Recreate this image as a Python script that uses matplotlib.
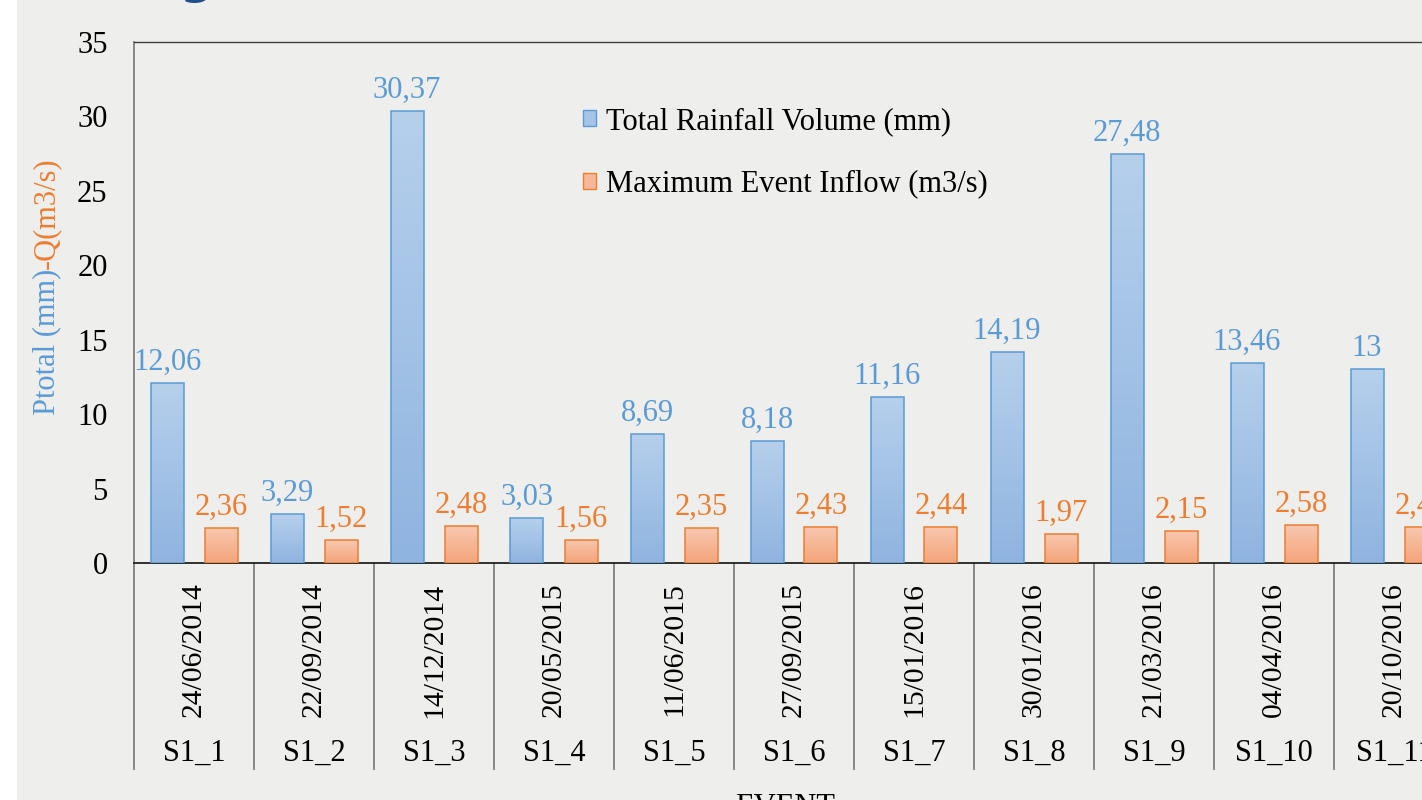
import numpy as np
import matplotlib
matplotlib.use("Agg")
import matplotlib.pyplot as plt
from matplotlib.patches import Rectangle
from matplotlib.colors import LinearSegmentedColormap
import matplotlib.transforms as mtransforms

plt.rcParams['font.family'] = ['Liberation Serif', 'DejaVu Serif']

events = ["S1_1", "S1_2", "S1_3", "S1_4", "S1_5", "S1_6", "S1_7", "S1_8", "S1_9", "S1_10", "S1_11"]
dates = ["24/06/2014", "22/09/2014", "14/12/2014", "20/05/2015", "11/06/2015", "27/09/2015",
         "15/01/2016", "30/01/2016", "21/03/2016", "04/04/2016", "20/10/2016"]
rainfall = [12.06, 3.29, 30.37, 3.03, 8.69, 8.18, 11.16, 14.19, 27.48, 13.46, 13]
inflow = [2.36, 1.52, 2.48, 1.56, 2.35, 2.43, 2.44, 1.97, 2.15, 2.58, 2.42]
yticks = [0, 5, 10, 15, 20, 25, 30, 35]

BG = '#eeeeec'
BLUE_EDGE = '#5b9bd5'
ORANGE_EDGE = '#ed7d31'
BLUE_TXT = '#5b9bd5'
ORANGE_TXT = '#ed7d31'
FS = 22
FS_DATE = 21.3

W, H = 1422, 800
fig = plt.figure(figsize=(W / 100, H / 100), dpi=100, facecolor=BG)
fig.patches.append(Rectangle((0, 0), 17 / W, 1, transform=fig.transFigure,
                             facecolor='white', edgecolor='none', zorder=-1))

left, right, top, bottom = 134, 1454, 42, 563
ax = fig.add_axes([left / W, 1 - bottom / H, (right - left) / W, (bottom - top) / H])
ax.set_facecolor(BG)

x = np.arange(len(events))
bw = 0.275
off = 0.225
bars_b = ax.bar(x - off, rainfall, bw, facecolor='none', edgecolor=BLUE_EDGE, linewidth=1.1, zorder=3)
bars_o = ax.bar(x + off, inflow, bw, facecolor='none', edgecolor=ORANGE_EDGE, linewidth=1.1, zorder=3)

cmap_b = LinearSegmentedColormap.from_list('b', ['#8fb4e0', '#b6d0ec'])
cmap_o = LinearSegmentedColormap.from_list('o', ['#f4a47a', '#f8c8b0'])
grad = np.linspace(0, 1, 256).reshape(-1, 1)
for bars, cm in ((bars_b, cmap_b), (bars_o, cmap_o)):
    for b in bars:
        x0, y0 = b.get_x(), b.get_y()
        im = ax.imshow(grad, cmap=cm, origin='lower', aspect='auto', interpolation='bilinear',
                       extent=[x0, x0 + b.get_width(), y0, y0 + b.get_height()], zorder=2.9)
        im.set_clip_path(b)

for b, v in zip(bars_b, rainfall):
    ax.annotate(f"{v:g}".replace('.', ','), (b.get_x() + b.get_width() / 2, v),
                xytext=(0, 9.5), textcoords='offset points', ha='center', va='baseline',
                fontsize=FS, color=BLUE_TXT, annotation_clip=False)
for b, v in zip(bars_o, inflow):
    ax.annotate(f"{v:.2f}".replace('.', ','), (b.get_x() + b.get_width() / 2, v),
                xytext=(0, 9.5), textcoords='offset points', ha='center', va='baseline',
                fontsize=FS, color=ORANGE_TXT, annotation_clip=False)

ax.set_xlim(-0.5, len(events) - 0.5)
ax.set_ylim(0, 35)
ax.set_yticks(yticks)
ax.set_yticklabels([str(t) for t in yticks], fontsize=FS)
ax.tick_params(axis='y', length=0, pad=19)
ax.set_xticks(x)
ax.set_xticklabels(dates, rotation=90, fontsize=FS_DATE)
ax.tick_params(axis='x', length=0, pad=14)

ax.spines['left'].set_color('#808080')
ax.spines['left'].set_linewidth(1.3)
ax.spines['top'].set_color('#404040')
ax.spines['top'].set_linewidth(1.0)
ax.spines['bottom'].set_color('#202020')
ax.spines['bottom'].set_linewidth(1.3)
ax.spines['right'].set_visible(False)

trans = mtransforms.blended_transform_factory(ax.transData, ax.transAxes)
ax_h = bottom - top
ax.vlines(np.arange(len(events) + 1) - 0.5, -(770 - bottom) / ax_h, 0, transform=trans,
          colors='#808080', linewidth=1.3, clip_on=False)
for xi, ev in zip(x, events):
    ax.text(xi, -(753 - bottom) / ax_h, ev, transform=trans, ha='center', va='center',
            fontsize=FS, color='black', clip_on=False)

fig.text(785 / W, 1 - 793 / H, "EVENT", ha='center', va='top', fontsize=FS, color='black')

# legend
h1 = Rectangle((0, 0), 1, 1, facecolor='#a6c4e7', edgecolor=BLUE_EDGE, linewidth=1.0)
h2 = Rectangle((0, 0), 1, 1, facecolor='#f6b899', edgecolor=ORANGE_EDGE, linewidth=1.0)
fig.legend([h1, h2], ["Total Rainfall Volume (mm)", "Maximum Event Inflow (m3/s)"],
           loc='upper left', bbox_to_anchor=(583 / W, 1 - 107 / H), frameon=False,
           fontsize=FS, handlelength=0.43, handleheight=0.43, handletextpad=0.33,
           labelspacing=1.1, borderpad=0, borderaxespad=0)

# multi-colour y label
fig.canvas.draw()
r = fig.canvas.get_renderer()
t1 = fig.text(47 / W, 1 - 415 / H, "Ptotal (mm)", rotation=90, ha='center', va='bottom',
              fontsize=FS, color=BLUE_TXT)
bb = t1.get_window_extent(r)
fig.text(47 / W, bb.y1 / H, "-Q(m3/s)", rotation=90, ha='center', va='bottom',
         fontsize=FS, color=ORANGE_TXT)

# fragment of the title visible at the top edge
fig.text(197 / W, 1 - 3 / H, "g", ha='center', va='bottom', fontsize=34,
         color='#1f4e8c', fontweight='bold', family='DejaVu Sans')

fig.savefig("out.png", dpi=100, facecolor=BG)
